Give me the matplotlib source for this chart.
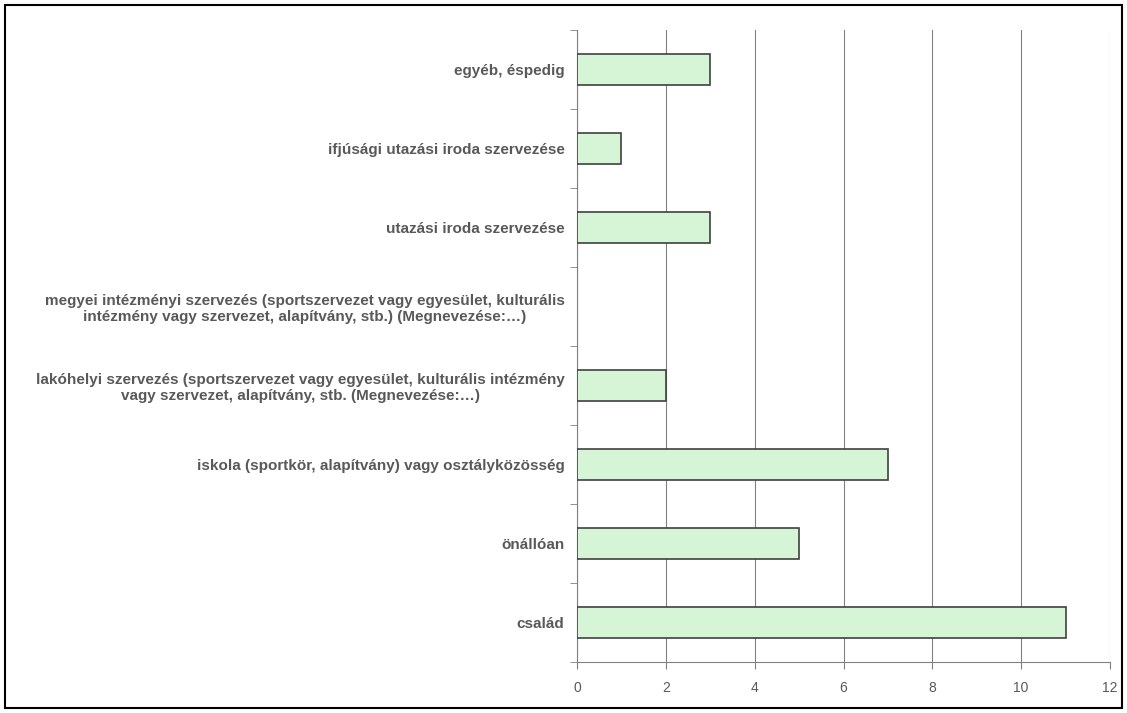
import matplotlib
matplotlib.use("Agg")
import matplotlib.pyplot as plt
import numpy as np

plt.rcParams['font.family'] = ['Liberation Sans', 'DejaVu Sans']

categories = [
    'család',
    'önállóan',
    'iskola (sportkör, alapítvány) vagy osztályközösség',
    'lakóhelyi szervezés (sportszervezet vagy egyesület, kulturális intézmény\nvagy szervezet, alapítvány, stb. (Megnevezése:…)',
    'megyei intézményi szervezés (sportszervezet vagy egyesület, kulturális\nintézmény vagy szervezet, alapítvány, stb.) (Megnevezése:…)',
    'utazási iroda szervezése',
    'ifjúsági utazási iroda szervezése',
    'egyéb, éspedig',
]
values = [11, 5, 7, 2, 0, 3, 1, 3]
xticks = [0, 2, 4, 6, 8, 10, 12]

fig = plt.figure(figsize=(11.27, 7.13), dpi=100)
ax = fig.add_axes([577 / 1127, 51 / 713, 533 / 1127, 632 / 713])

y = np.arange(len(categories))
# zero-valued bars get no outline so nothing shows at the axis
widths = [1.2 if v > 0 else 0 for v in values]
ax.barh(y, values, height=0.4, color='#d6f5d6', edgecolor='#404040',
        linewidth=widths, zorder=3)

ax.set_xlim(0, 12)
ax.set_ylim(-0.5, len(categories) - 0.5)
ax.set_xticks(xticks)
ax.set_xticklabels([str(t) for t in xticks], color='#595959', fontsize=10)
ax.set_yticks(y)
ax.set_yticklabels(categories, fontsize=11, fontweight='bold', color='#595959',
                   ha='right', multialignment='center')
ax.set_yticks(np.arange(len(categories) + 1) - 0.5, minor=True)
ax.tick_params(axis='y', which='major', length=0, pad=9)
ax.tick_params(axis='y', which='minor', length=5, color='#808080')
ax.tick_params(axis='x', length=5, color='#808080', pad=9)

ax.grid(axis='x', color='#808080', linewidth=0.8, zorder=0)
for s in ['top', 'right']:
    ax.spines[s].set_visible(False)
ax.spines['left'].set_color('#808080')
ax.spines['bottom'].set_color('#808080')

border = plt.Rectangle((5 / 1127, 5 / 713), 1117 / 1127, 703 / 713,
                       transform=fig.transFigure, fill=False,
                       edgecolor='black', linewidth=1.5)
fig.patches.append(border)

fig.savefig('out.png', dpi=100)
